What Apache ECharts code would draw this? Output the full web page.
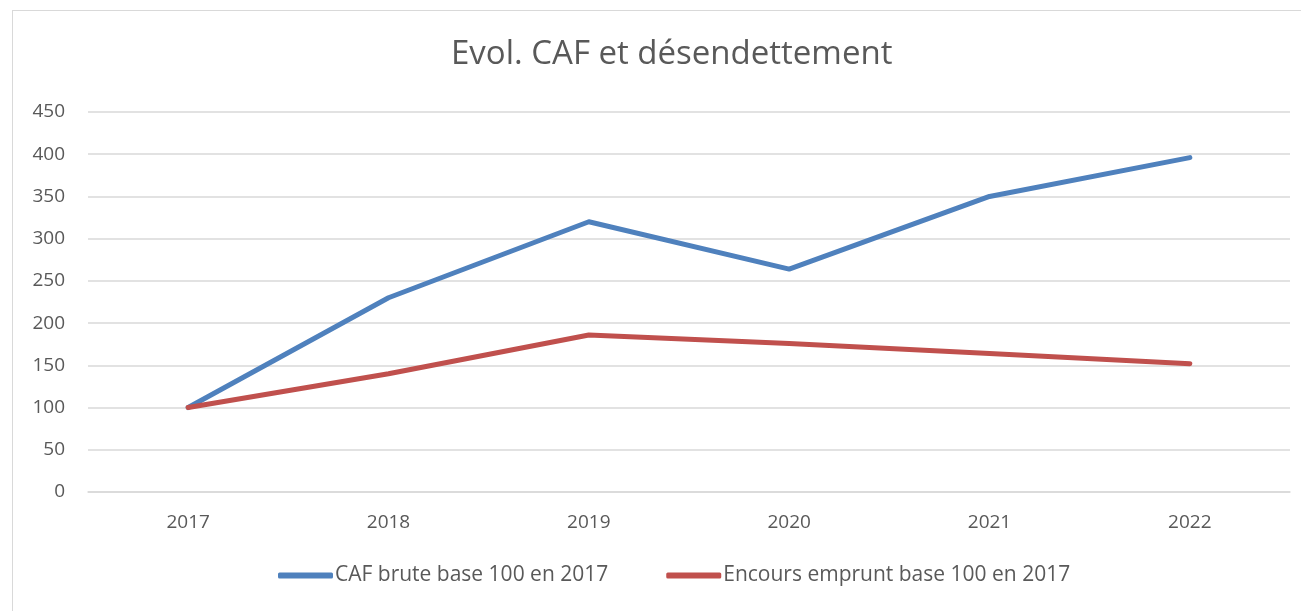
<!DOCTYPE html>
<html><head><meta charset="utf-8">
<script src="https://cdn.jsdelivr.net/npm/echarts@6/dist/echarts.min.js"></script>
<style>html,body{margin:0;padding:0;background:#fff;}#c{width:1301px;height:611px;}
#frame{position:absolute;left:12px;top:10px;width:1300px;height:620px;border:1.5px solid #d9d9d9;box-sizing:border-box;pointer-events:none;}</style>
</head><body><div id="c"></div><div id="frame"></div>
<script>
const categories = ['2017','2018','2019','2020','2021','2022'];
const cafBrute = [100, 230, 320, 264, 350, 396];
const encoursEmprunt = [100, 140, 186, 176, 164, 152];
const yTicks = { min: 0, max: 450, interval: 50 };
const seriesNames = ['CAF brute base 100 en 2017', 'Encours emprunt base 100 en 2017'];

const chart = echarts.init(document.getElementById('c'), null, {renderer:'canvas'});
const fontFam = "'Open Sans', 'Liberation Sans', sans-serif";
chart.setOption({
  animation:false,
  backgroundColor:'#ffffff',
  title:{text:'Evol. CAF et désendettement', left:446, top:33,
    textStyle:{fontFamily:fontFam, fontSize:33, fontWeight:'normal', color:'#595959'}},
  legend:{bottom:20, left:273, itemWidth:55, itemHeight:6, itemGap:58, icon:'roundRect',
    textStyle:{fontFamily:fontFam, fontSize:21, color:'#595959', padding:[0,0,0,-3]},
    data:seriesNames},
  grid:{left:88, right:11, top:112, bottom:119},
  xAxis:{type:'category', data:categories, boundaryGap:true,
    axisLine:{lineStyle:{color:'#d9d9d9', width:1.5}}, axisTick:{show:false},
    axisLabel:{fontFamily:fontFam, fontSize:19, color:'#595959', margin:21}},
  yAxis:{type:'value', min:yTicks.min, max:yTicks.max, interval:yTicks.interval,
    axisLine:{show:false}, axisTick:{show:false},
    splitLine:{lineStyle:{color:'#d9d9d9', width:1.5}},
    axisLabel:{fontFamily:fontFam, fontSize:19, color:'#595959', margin:23}},
  series:[
    {name:seriesNames[0], type:'line', data:cafBrute, symbol:'none', color:'#4f81bd',
      lineStyle:{width:5, color:'#4f81bd', cap:'round', join:'round'}},
    {name:seriesNames[1], type:'line', data:encoursEmprunt, symbol:'none', color:'#c0504d',
      lineStyle:{width:5, color:'#c0504d', cap:'round', join:'round'}}
  ]
});
</script></body></html>
